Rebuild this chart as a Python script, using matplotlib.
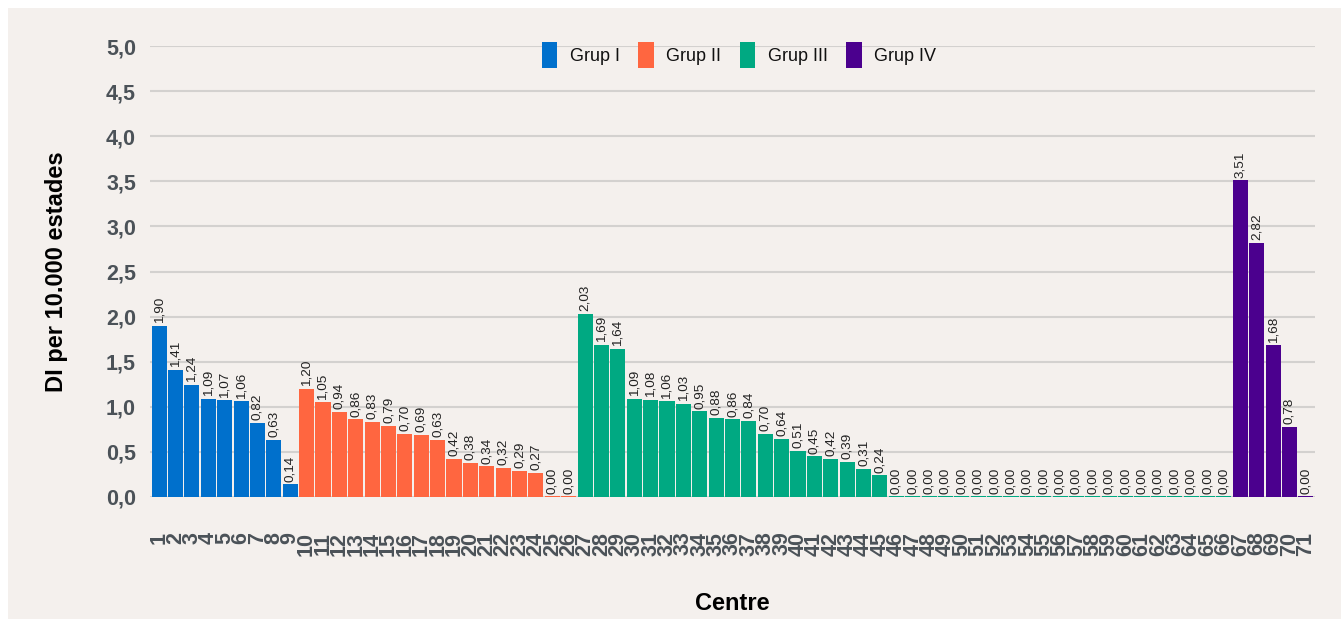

# bar chart of DI per 10.000 estades for each centre, coloured by group

import matplotlib
matplotlib.use('Agg')
import matplotlib.pyplot as plt
from matplotlib.patches import Rectangle, Patch

plt.rcParams['font.family'] = ['Liberation Sans', 'DejaVu Sans']

# data
group_names = ['Grup I', 'Grup II', 'Grup III', 'Grup IV']
group_colors = ['#0070CC', '#FF6640', '#00A982', '#4B008E']

grup_1 = [1.90, 1.41, 1.24, 1.09, 1.07, 1.06, 0.82, 0.63, 0.14]
grup_2 = [1.20, 1.05, 0.94, 0.86, 0.83, 0.79, 0.70, 0.69, 0.63, 0.42,
          0.38, 0.34, 0.32, 0.29, 0.27, 0.00, 0.00]
grup_3 = [2.03, 1.69, 1.64, 1.09, 1.08, 1.06, 1.03, 0.95, 0.88, 0.86,
          0.84, 0.70, 0.64, 0.51, 0.45, 0.42, 0.39, 0.31, 0.24] + [0.00] * 21
grup_4 = [3.51, 2.82, 1.68, 0.78, 0.00]

groups = [grup_1, grup_2, grup_3, grup_4]

y_ticks = [0.0, 0.5, 1.0, 1.5, 2.0, 2.5, 3.0, 3.5, 4.0, 4.5, 5.0]

BG = '#F4F0ED'
TICK_COLOR = '#4B5258'

W, H = 1341, 619
fig = plt.figure(figsize=(W / 100, H / 100), dpi=100, facecolor='white')

# beige panel behind everything (white margin top/left)
fig.patches.append(Rectangle((8 / W, 0), 1 - 8 / W, 1 - 8 / H, transform=fig.transFigure,
                             facecolor=BG, edgecolor='none', zorder=-10))

ax = fig.add_axes([150 / W, 1 - 497 / H, 1165 / W, 451 / H])
ax.set_facecolor('none')

# draw each group, zero values shown as a thin line on the baseline
centre = 1
handles = []
for values, color, name in zip(groups, group_colors, group_names):
    xs = list(range(centre, centre + len(values)))
    heights = [max(v, 0.015) for v in values]
    ax.bar(xs, heights, width=0.92, color=color, zorder=3)
    for x, v in zip(xs, values):
        ax.annotate(f'{v:.2f}'.replace('.', ','), (x, v), xytext=(0, 2), textcoords='offset points',
                    rotation=90, ha='center', va='bottom', fontsize=9.7, color='#222222', zorder=4)
    handles.append(Patch(facecolor=color, edgecolor='none', label=name))
    centre += len(values)

n_centres = centre - 1

ax.set_xlim(0.44, n_centres + 0.56)
ax.set_ylim(0, 5.0)
ax.set_yticks(y_ticks)
ax.set_yticklabels([f'{t:.1f}'.replace('.', ',') for t in y_ticks],
                   fontsize=15.5, fontweight='bold', color=TICK_COLOR)
ax.set_xticks(range(1, n_centres + 1))
ax.set_xticklabels([str(i) for i in range(1, n_centres + 1)], rotation=90,
                   fontsize=15.5, fontweight='bold', color=TICK_COLOR)
ax.tick_params(axis='y', length=0, pad=10)
ax.tick_params(axis='x', length=0, pad=25)

ax.grid(axis='y', color='#D3D1CF', linewidth=1.5, zorder=0)
ax.set_axisbelow(True)
for s in ax.spines.values():
    s.set_visible(False)

fig.text(57 / W, 1 - 272 / H, 'DI per 10.000 estades', rotation=90, ha='center', va='center',
         fontsize=17, fontweight='bold', color='black')
fig.text(732 / W, 1 - 603 / H, 'Centre', ha='center', va='center',
         fontsize=17, fontweight='bold', color='black')

leg = fig.legend(handles=handles, loc='center', bbox_to_anchor=(739 / W, 1 - 55 / H), ncol=4,
                 frameon=False, fontsize=13, handlelength=0.87, handleheight=1.9,
                 handletextpad=0.7, columnspacing=1.0)
for t in leg.get_texts():
    t.set_color('#111111')

fig.savefig('out.png', dpi=100, facecolor=fig.get_facecolor())
